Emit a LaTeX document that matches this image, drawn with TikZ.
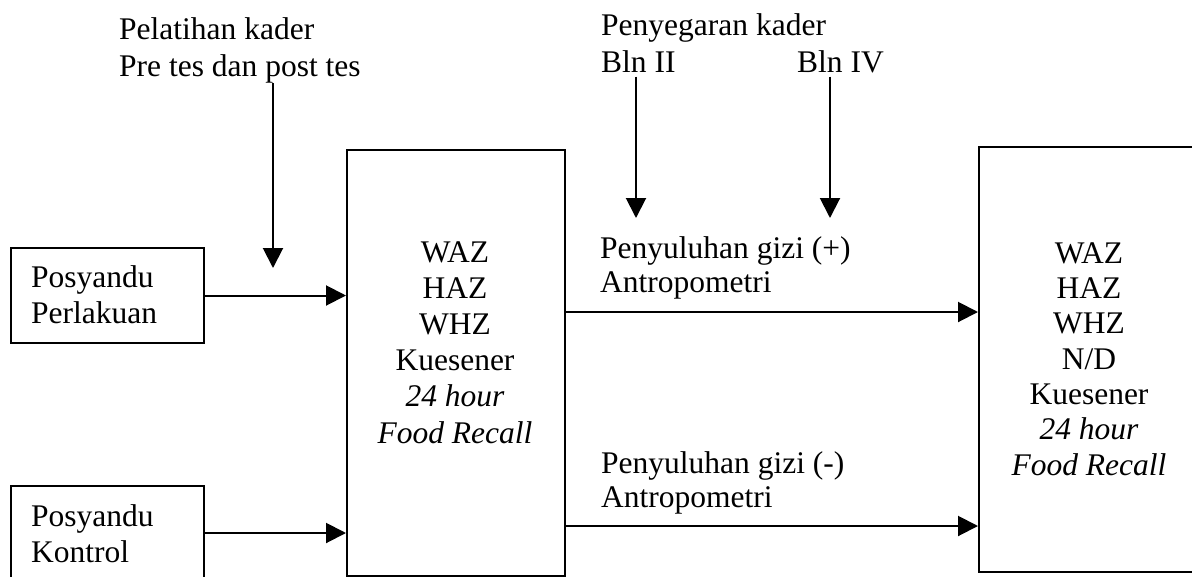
\documentclass[tikz,border=0pt]{standalone}
\usepackage{fontspec}
\setmainfont{Liberation Serif}
\usetikzlibrary{arrows.meta}
\begin{document}
\begin{tikzpicture}[x=1pt,y=-1pt,
  txt/.style={font=\fontsize{31.5}{36}\selectfont, inner sep=0pt, align=left, anchor=base west},
  ctxt/.style={font=\fontsize{31.5}{36.2}\selectfont, inner sep=0pt, align=center, anchor=base},
  frame/.style={draw, line width=2pt, inner sep=0pt, anchor=north west},
  flow/.style={line width=2pt, -{Triangle[length=20pt,width=20pt]}}]
\useasboundingbox[fill=white] (0,0) rectangle (1192,576);

% boxes
\node[frame, minimum width=193pt, minimum height=95pt] (perl) at (10,247) {};
\node[frame, minimum width=193pt, minimum height=94pt] (kont) at (10,485) {};
\node[frame, minimum width=218pt, minimum height=426pt] (mid) at (346,149) {};
\node[frame, minimum width=224pt, minimum height=425pt] (post) at (978,146) {};

% labels (positions give the baseline of the last line)
\node[txt, font=\fontsize{31.5}{37}\selectfont] (pelatihan) at (119,76) {Pelatihan kader\\Pre tes dan post tes};
\node[txt, font=\fontsize{31.5}{37}\selectfont] (penyeg) at (601,72) {Penyegaran kader\\Bln II};
\node[txt] (blnfour) at (797,72) {Bln IV};
\node[txt, font=\fontsize{31.5}{34}\selectfont] (plus) at (600,292) {Penyuluhan gizi (+)\\Antropometri};
\node[txt, font=\fontsize{31.5}{34}\selectfont] (minus) at (601,507) {Penyuluhan gizi (-)\\Antropometri};
\node[txt] (tperl) at (31,323) {Posyandu\\Perlakuan};
\node[txt] (tkont) at (31,562) {Posyandu\\Kontrol};
\node[ctxt] (tmid) at (455,443) {WAZ\\HAZ\\WHZ\\Kuesener\\\textit{24 hour}\\\textit{Food Recall}};
\node[ctxt, font=\fontsize{31.5}{35.3}\selectfont] (tpost) at (1089,475) {WAZ\\HAZ\\WHZ\\N/D\\Kuesener\\\textit{24 hour}\\\textit{Food Recall}};

% arrow ends
\coordinate (trainTip) at (273,268);
\coordinate (twoTip) at (636,218);
\coordinate (fourTip) at (830,218);
\coordinate (plusRow) at (0,312);
\coordinate (minusRow) at (0,526);

% connectors
\draw[flow] (trainTip |- pelatihan.south) -- (trainTip);
\draw[flow] (twoTip |- blnfour.south) ++(0,4) -- (twoTip);
\draw[flow] (fourTip |- blnfour.south) ++(0,4) -- (fourTip);
\draw[flow] (perl.east) -- (mid.west |- perl.east);
\draw[flow] (kont.east) -- (mid.west |- kont.east);
\draw[flow] (mid.east |- plusRow) -- (post.west |- plusRow);
\draw[flow] (mid.east |- minusRow) -- (post.west |- minusRow);
\end{tikzpicture}
\end{document}
